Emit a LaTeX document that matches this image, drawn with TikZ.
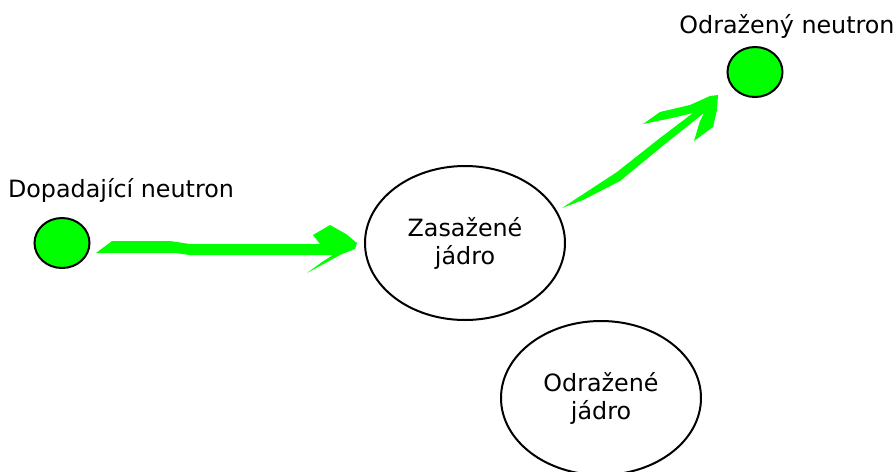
\documentclass[tikz,border=0pt]{standalone}
\usepackage{fontspec}
\setmainfont{DejaVu Sans}
\usetikzlibrary{shapes.geometric}

\definecolor{brightgreen}{RGB}{0,255,0}

\tikzset{
  neutron/.style={ellipse, draw=black, line width=1pt, fill=brightgreen,
    minimum width=27.5pt, minimum height=25pt, inner sep=0pt},
  nucleus/.style={ellipse, draw=black, line width=1pt, align=center,
    minimum width=100pt, minimum height=77pt, inner sep=0pt},
  caption/.style={anchor=base},
  brush/.style={fill=brightgreen, draw=none}
}

\begin{document}
\begin{tikzpicture}[x=0.5pt, y=-0.5pt, font=\fontsize{11.9}{14}\selectfont]
  \useasboundingbox (0,0) rectangle (896,472);
  % the four bodies
  \node[neutron] (nin) at (62,243) {};
  \node[neutron] (nout) at (755,72) {};
  \node[nucleus] (hit) at (465,243) {Zasažené\\jádro};
  \node[nucleus] (recoil) at (601,398) {Odražené\\jádro};
  % captions
  \node[caption] (nintext) at (121,197) {Dopadající neutron};
  \node[caption] (nouttext) at (787,33) {Odražený neutron};
  % hand drawn arrows
  \fill[brush] (96,253) -- (112,241) -- (170,241) -- (190,244) -- (320,244)
    -- (313,235) -- (330,225) -- (346,234) -- (357,243) -- (355,249)
    -- (342,254) -- (307,273) -- (322,262) -- (333,255) -- (190,255)
    -- (175,253) -- cycle;
  \fill[brush] (562,208) -- (617,172) -- (660,138) -- (693,113) -- (672,118)
    -- (643,124) -- (660,112) -- (690,105) -- (710,96) -- (718,95)
    -- (717,110) -- (713,127) -- (694,141) -- (700,121) -- (704,113)
    -- (665,144) -- (620,181) -- (583,200) -- cycle;
\end{tikzpicture}
\end{document}
